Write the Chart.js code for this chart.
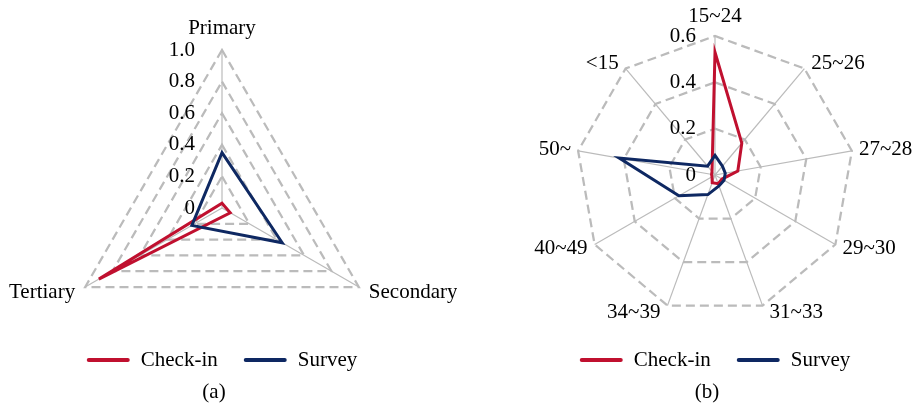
<!DOCTYPE html>
<html>
<head>
<meta charset="utf-8">
<title>Check-in vs Survey</title>
<script src="https://cdn.jsdelivr.net/npm/chart.js@4.4.1/dist/chart.umd.min.js"></script>
<style>
  html, body { margin: 0; padding: 0; background: #fff; }
  #wrap { position: relative; width: 915px; height: 407px; }
  .panel { position: absolute; top: 0; height: 407px; }
</style>
</head>
<body>
<div id="wrap">
  <div class="panel" style="left:0;width:457px"><canvas id="sectorChart" width="457" height="407"></canvas></div>
  <div class="panel" style="left:457px;width:458px"><canvas id="ageChart" width="458" height="407"></canvas></div>
</div>
<script>
const FONT = '"Liberation Serif", "Times New Roman", serif';
const RED = '#C0102F';
const NAVY = '#0E2862';
const GRID = '#BBBBBB';

const seriesNames = ['Check-in', 'Survey'];

// (a) share by sector
const sectorLabels = ['Primary', 'Secondary', 'Tertiary'];
const sectorCheckIn = [0.03, 0.06, 0.90];
const sectorSurvey = [0.35, 0.44, 0.22];
const sectorTicks = ['0', '0.2', '0.4', '0.6', '0.8', '1.0'];

// (b) share by age group
const ageLabels = ['15~24', '25~26', '27~28', '29~30', '31~33', '34~39', '40~49', '50~', '<15'];
const ageCheckIn = [0.53, 0.18, 0.10, 0.035, 0.04, 0.035, 0.015, 0.015, 0.02];
const ageSurvey = [0.085, 0.05, 0.045, 0.045, 0.05, 0.09, 0.18, 0.42, 0.05];
const ageTicks = ['0', '0.2', '0.4', '0.6'];

// tick labels, category labels, legend and caption are all painted here
const radarDecor = {
    id: 'radarDecor',
    afterDraw(chart, args, opts) {
        const ctx = chart.ctx;
        const r = chart.scales.r;
        ctx.save();
        ctx.font = '21px ' + FONT;
        ctx.fillStyle = '#000';
        ctx.textBaseline = 'middle';

        // tick values sit to the left of the vertical axis
        ctx.textAlign = 'right';
        r.ticks.forEach(t => {
            const y = r.yCenter - r.getDistanceFromCenterForValue(t.value);
            ctx.fillText(t.label, r.xCenter - opts.tickGap, y);
        });

        // category names round the outer ring
        chart.data.labels.forEach((lab, i) => {
            const p = r.getPointPosition(i, r.drawingArea);
            const a = r.getIndexAngle(i);
            const s = Math.sin(a), c = Math.cos(a);
            let x = p.x, y = p.y;
            if (Math.abs(s) < 0.1) {
                ctx.textAlign = 'center';
                y -= opts.topGap;
            } else if (s > 0) {
                ctx.textAlign = 'left';
                x += opts.sideGap;
                y -= c * opts.lift;
            } else {
                ctx.textAlign = 'right';
                x -= opts.sideGap;
                y -= c * opts.lift;
            }
            ctx.fillText(lab, x, y);
        });

        // legend: short line + name, centred under the radar
        const lineLen = 43, lineGap = 11, itemGap = 26;
        const items = chart.data.datasets.map(ds => ({
            label: ds.label, color: ds.borderColor, w: ctx.measureText(ds.label).width
        }));
        let total = items.reduce((sum, it) => sum + lineLen + lineGap + it.w, 0) + itemGap * (items.length - 1);
        let x = r.xCenter - total / 2;
        ctx.textAlign = 'left';
        items.forEach(it => {
            ctx.strokeStyle = it.color;
            ctx.lineWidth = 4;
            ctx.lineCap = 'round';
            ctx.beginPath();
            ctx.moveTo(x + 2, opts.legendY);
            ctx.lineTo(x + lineLen - 2, opts.legendY);
            ctx.stroke();
            x += lineLen + lineGap;
            ctx.fillText(it.label, x, opts.legendY);
            x += it.w + itemGap;
        });

        // panel caption
        ctx.textAlign = 'center';
        ctx.fillText(opts.caption, r.xCenter - 8, opts.captionY);
        ctx.restore();
    }
};

function radialScale(max, tickLabels) {
    return {
        min: 0,
        max: max,
        ticks: { stepSize: 0.2, display: false, callback: (v, i) => tickLabels[i] },
        pointLabels: { display: false },
        grid: { color: GRID, lineWidth: 2.25 },
        border: { dash: [9, 5] },
        angleLines: { color: GRID, lineWidth: 1.2 }
    };
}

function series(label, data, color, order) {
    return {
        label: label,
        data: data,
        borderColor: color,
        backgroundColor: 'transparent',
        borderWidth: 3,
        borderJoinStyle: 'miter',
        pointRadius: 0,
        pointHoverRadius: 0,
        fill: false,
        order: order
    };
}

function makeRadar(id, labels, checkIn, survey, max, ticks, padding, decor) {
    return new Chart(document.getElementById(id), {
        type: 'radar',
        data: {
            labels: labels,
            datasets: [
                series(seriesNames[0], checkIn, RED, 1),
                series(seriesNames[1], survey, NAVY, 0)
            ]
        },
        options: {
            responsive: false,
            animation: false,
            layout: { padding: padding },
            scales: { r: radialScale(max, ticks) },
            plugins: {
                legend: { display: false },
                tooltip: { enabled: false },
                radarDecor: decor
            }
        },
        plugins: [radarDecor]
    });
}

makeRadar('sectorChart', sectorLabels, sectorCheckIn, sectorSurvey, 1, sectorTicks,
    { left: 64, top: 50, right: 77, bottom: 41 },
    { tickGap: 27, topGap: 22, sideGap: 10, lift: 10, legendY: 360, captionY: 392, caption: '(a)' });

makeRadar('ageChart', ageLabels, ageCheckIn, ageSurvey, 0.6, ageTicks,
    { left: 119, top: 36, right: 61, bottom: 93 },
    { tickGap: 19, topGap: 20, sideGap: 7, lift: 7, legendY: 360, captionY: 392, caption: '(b)' });
</script>
</body>
</html>
